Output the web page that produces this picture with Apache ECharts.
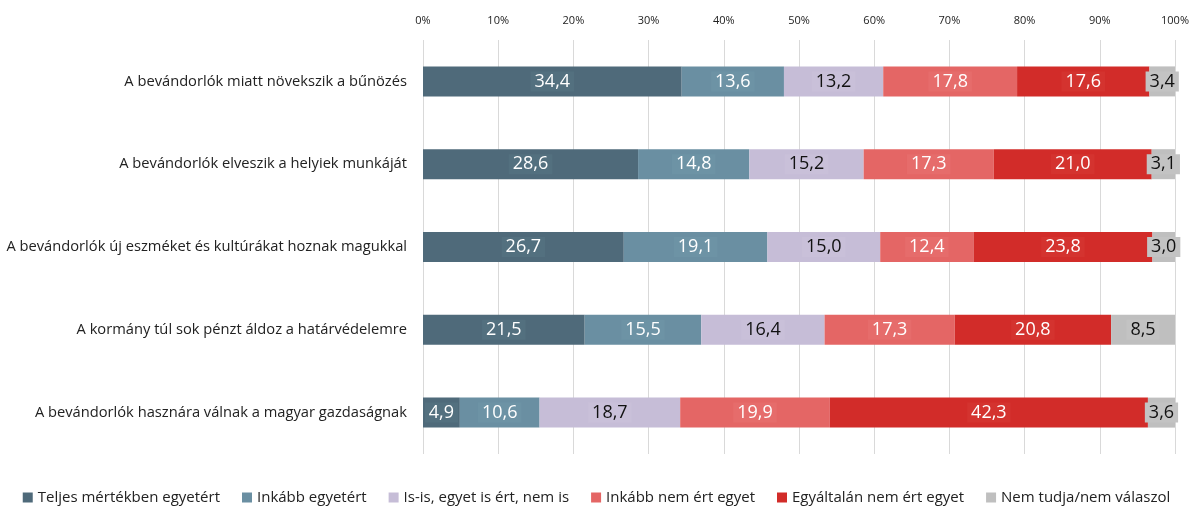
<!DOCTYPE html>
<html><head><meta charset="utf-8">
<script src="https://cdn.jsdelivr.net/npm/echarts@6/dist/echarts.min.js"></script>
<style>html,body{margin:0;padding:0;background:#fff}#c{width:1193px;height:509px}</style>
</head><body><div id="c"></div>
<script>
const categories = [
  "A bevándorlók miatt növekszik a bűnözés",
  "A bevándorlók elveszik a helyiek munkáját",
  "A bevándorlók új eszméket és kultúrákat hoznak magukkal",
  "A kormány túl sok pénzt áldoz a határvédelemre",
  "A bevándorlók hasznára válnak a magyar gazdaságnak"
];
const seriesNames = ["Teljes mértékben egyetért","Inkább egyetért","Is-is, egyet is ért, nem is","Inkább nem ért egyet","Egyáltalán nem ért egyet","Nem tudja/nem válaszol"];
const teljes   = [34.4, 28.6, 26.7, 21.5, 4.9];
const inkabb   = [13.6, 14.8, 19.1, 15.5, 10.6];
const isis     = [13.2, 15.2, 15.0, 16.4, 18.7];
const inkNem   = [17.8, 17.3, 12.4, 17.3, 19.9];
const egyaltalan = [17.6, 21.0, 23.8, 20.8, 42.3];
const nemTudja = [3.4, 3.1, 3.0, 8.5, 3.6];
const tickLabels = ["0%","10%","20%","30%","40%","50%","60%","70%","80%","90%","100%"];

const allData = [teljes, inkabb, isis, inkNem, egyaltalan, nemTudja];
const colors = ["#4f6a7a","#6a8fa2","#c6bdd7","#e46665","#d22c29","#bfbfbf"];
const labelBg = ["#53707f","#6d93a5","#c9c0d9","#e66c6b","#d4332f","#c3c3c3"];
const labelColors = ["#fff","#fff","#111","#fff","#fff","#111"];
const font = "'Open Sans', 'Noto Sans', sans-serif";

const chart = echarts.init(document.getElementById('c'));
chart.setOption({
  animation: false,
  color: colors,
  textStyle: {fontFamily: font},
  grid: {left: 423, right: 18, top: 40, bottom: 55, containLabel: false},
  legend: {
    bottom: -1, left: 'center', itemWidth: 10, itemHeight: 10, itemGap: 22, icon: 'rect',
    textStyle: {fontSize: 15, color: '#222', fontFamily: font},
    data: seriesNames
  },
  xAxis: {
    type: 'value', position: 'top', min: 0, max: 100, interval: 10,
    axisLine: {show: false}, axisTick: {show: false},
    splitLine: {show: true, lineStyle: {color: '#d9d9d9', width: 1}},
    axisLabel: {fontSize: 11, color: '#222', margin: 14, formatter: (v) => tickLabels[Math.round(v/10)]}
  },
  yAxis: {
    type: 'category', inverse: true, data: categories,
    axisLine: {show: false}, axisTick: {show: false},
    axisLabel: {fontSize: 14.7, color: '#222', margin: 16}
  },
  series: seriesNames.map((name, i) => ({
    name, type: 'bar', stack: 'total', barWidth: 30,
    data: allData[i],
    itemStyle: {color: colors[i]},
    label: {
      show: true, position: 'inside', fontSize: 18, color: labelColors[i],
      backgroundColor: labelBg[i], padding: [1, 4],
      formatter: (p) => p.value.toFixed(1).replace('.', ',')
    }
  }))
});
</script></body></html>
